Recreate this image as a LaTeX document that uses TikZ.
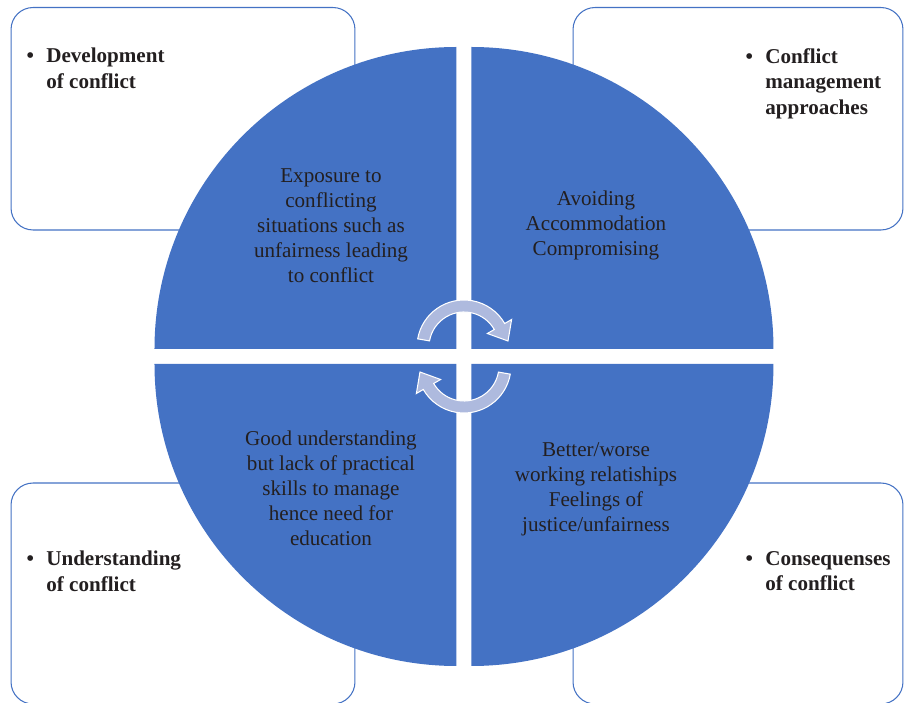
\documentclass[tikz,border=0pt]{standalone}
\usepackage{fontspec}
\setmainfont{Liberation Serif}
\usepackage{xcolor}
\usetikzlibrary{positioning}

\definecolor{quadblue}{HTML}{4472C4}
\definecolor{arrowlilac}{RGB}{174,186,222}
\definecolor{inkdark}{HTML}{231F20}

\begin{document}
\begin{tikzpicture}[
            x=0.02cm, y=0.02cm,
            cornerbox/.style={draw=quadblue, line width=0.6pt, rounded corners=0.44cm, fill=white, inner sep=0pt},
            quadrant/.style={fill=quadblue},
            quadtext/.style={align=center, text=inkdark, font=\fontsize{12}{14.3}\selectfont},
            boxlabel/.style={anchor=north west, align=left, inner sep=0pt, text=inkdark, font=\fontsize{12}{14.6}\selectfont\bfseries},
            cyclearrow/.style={fill=arrowlilac, draw=white, line width=0.6pt}
        ]
            \useasboundingbox (-464,-346.5) rectangle (440,356.5);

            \node[cornerbox, minimum width=6.88cm, minimum height=4.45cm] (devbox) at (-281,237.75) {};
            \node[cornerbox, minimum width=6.6cm, minimum height=4.45cm] (mgmtbox) at (274,237.75) {};
            \node[cornerbox, minimum width=6.88cm, minimum height=4.42cm] (undbox) at (-281,-237) {};
            \node[cornerbox, minimum width=6.6cm, minimum height=4.42cm] (consbox) at (274,-237) {};

            \node[boxlabel] (devlabel) at (-437.7,308.5) {\makebox[11.2pt][l]{\textbullet}Development\\\hspace{11.2pt}of conflict};
            \node[boxlabel] (mgmtlabel) at (281.3,308.5) {\makebox[11.2pt][l]{\textbullet}Conflict\\\hspace{11.2pt}management\\\hspace{11.2pt}approaches};
            \node[boxlabel] (undlabel) at (-437.7,-194.5) {\makebox[11.2pt][l]{\textbullet}Understanding\\\hspace{11.2pt}of conflict};
            \node[boxlabel] (conslabel) at (281.3,-194.5) {\makebox[11.2pt][l]{\textbullet}Consequenses\\\hspace{11.2pt}of conflict};

            \fill[quadrant] (-7.5,7.5) -- ++(0,302) arc[start angle=90, end angle=180, radius=302] -- cycle;
            \fill[quadrant] (7.5,7.5) -- ++(302,0) arc[start angle=0, end angle=90, radius=302] -- cycle;
            \fill[quadrant] (-7.5,-7.5) -- ++(-302,0) arc[start angle=180, end angle=270, radius=302] -- cycle;
            \fill[quadrant] (7.5,-7.5) -- ++(0,-302) arc[start angle=270, end angle=360, radius=302] -- cycle;

            \node[quadtext] (exposure) at (-133,131) {Exposure to\\conflicting\\situations such as\\unfairness leading\\to conflict};
            \node[quadtext] (approaches) at (132,131) {Avoiding\\Accommodation\\Compromising};
            \node[quadtext] (education) at (-133,-132) {Good understanding\\but lack of practical\\skills to manage\\hence need for\\education};
            \node[quadtext] (outcomes) at (132,-132.5) {Better/worse\\working relatiships\\Feelings of\\justice/unfairness};

            \foreach \turn/\dy in {0/9.5,180/-9.5} {
                \draw[cyclearrow, shift={(0,\dy)}, rotate=\turn]
                    (170:47) arc[start angle=170, end angle=30, radius=47]
                    -- (30:55) -- (44,6) -- (30:27) -- (30:35)
                    arc[start angle=30, end angle=170, radius=35] -- cycle;
            }
        \end{tikzpicture}
\end{document}
